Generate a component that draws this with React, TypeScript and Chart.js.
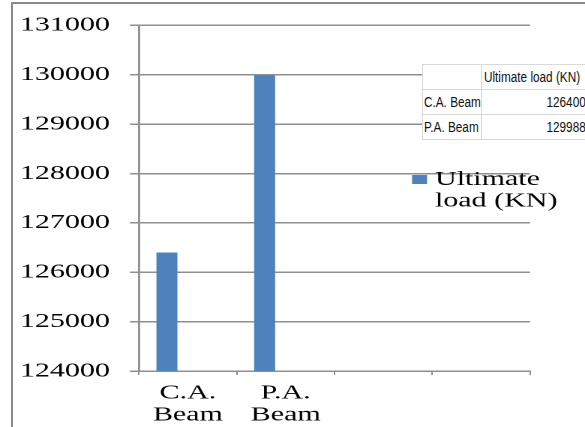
import React, { useEffect, useRef } from "react";
import { Chart, registerables } from "chart.js";

Chart.register(...registerables);

const categories: (string | string[])[] = [["C.A.", "Beam"], ["P.A.", "Beam"], "", ""];
const ultimateLoad: (number | null)[] = [126400, 129988, null, null];
const emptySeries: (number | null)[] = [null, null, null, null];
const seriesName = "Ultimate load (KN)";
const legendLines = ["Ultimate", "load (KN)"];
const yMin = 124000;
const yMax = 131000;
const yStep = 1000;
const tableRowNames = ["C.A. Beam", "P.A. Beam"];
const tableRowValues = [126400, 129988];

const STRETCH = 1.5;
const BASE_W = 390;
const H = 427;
const CANVAS_H = 435;
const GRAY = "#8e8e8e";
const BLUE = "#4f81bd";
const SERIF = '"Liberation Serif", "Times New Roman", serif';

export default function App() {
  const ref = useRef<HTMLCanvasElement | null>(null);

  useEffect(() => {
    document.body.style.margin = "0";
    document.body.style.overflow = "hidden";
    const canvas = ref.current;
    if (!canvas) return;

    const legendPlugin = {
      id: "customLegend",
      afterDatasetsDraw(chart: any) {
        const ctx = chart.ctx;
        ctx.save();
        ctx.fillStyle = BLUE;
        ctx.fillRect(274.7, 175, 10, 9);
        ctx.fillStyle = "#000";
        ctx.font = `20px ${SERIF}`;
        ctx.textBaseline = "alphabetic";
        ctx.textAlign = "left";
        legendLines.forEach((line, i) => {
          ctx.fillText(line, 290, 185 + i * 21.5);
        });
        ctx.restore();
      },
    };

    const chart = new Chart(canvas, {
      type: "bar",
      data: {
        labels: categories,
        datasets: [
          { label: seriesName, data: ultimateLoad, backgroundColor: BLUE, borderWidth: 0 },
          { label: "", data: emptySeries, backgroundColor: BLUE },
          { label: "", data: emptySeries, backgroundColor: BLUE },
        ],
      },
      options: {
        animation: false,
        responsive: false,
        devicePixelRatio: 2,
        datasets: {
          bar: { categoryPercentage: 0.6445, barPercentage: 1 },
        },
        layout: { padding: { top: 25, right: 36.7, bottom: 2, left: 0 } },
        plugins: {
          legend: { display: false },
          tooltip: { enabled: false },
        },
        scales: {
          x: {
            type: "category",
            offset: true,
            grid: {
              display: true,
              offset: true,
              drawOnChartArea: false,
              drawTicks: true,
              tickLength: 4,
              color: GRAY,
              lineWidth: 1,
            },
            border: { display: true, color: GRAY, width: 1.5 },
            ticks: {
              color: "#000",
              font: { family: SERIF, size: 20, lineHeight: 1.1 },
              maxRotation: 0,
              minRotation: 0,
              autoSkip: false,
              padding: 7,
            },
          },
          y: {
            min: yMin,
            max: yMax,
            afterFit(scale: any) {
              scale.width = 92.7;
            },
            grid: {
              color: GRAY,
              lineWidth: 1.5,
              tickLength: 6,
              drawTicks: true,
            },
            border: { display: true, color: GRAY, width: 1.4 },
            ticks: {
              stepSize: yStep,
              color: "#000",
              font: { family: SERIF, size: 20 },
              padding: 13.4,
              callback: (v: any) => String(v),
            },
          },
        },
      },
      plugins: [legendPlugin],
    });
    return () => chart.destroy();
  }, []);

  const cellBase: React.CSSProperties = {
    border: "1px solid #d9d9d9",
    height: 24,
    padding: 0,
    whiteSpace: "nowrap",
    overflow: "hidden",
  };
  const txt = (s: string | number, origin: string): React.ReactNode => (
    <span style={{ display: "inline-block", transform: "scaleX(0.84)", transformOrigin: origin }}>{s}</span>
  );

  return (
    <div style={{ position: "fixed", left: 0, top: 0, width: 585, height: H, overflow: "hidden", background: "#fff" }}>
      <div
        style={{
          position: "absolute",
          left: 11,
          top: 2,
          width: 700,
          height: 600,
          borderLeft: "2px solid #8a8a8a",
          borderTop: "2px solid #8a8a8a",
        }}
      />
      <canvas
        ref={ref}
        width={BASE_W}
        height={CANVAS_H}
        style={{ position: "absolute", left: 0, top: 0, transform: `scaleX(${STRETCH})`, transformOrigin: "0 0" }}
      />
      <table
        style={{
          position: "absolute",
          left: 422,
          top: 64,
          borderCollapse: "collapse",
          background: "#fff",
          fontFamily: '"Liberation Sans", Arial, sans-serif',
          fontSize: 14,
          color: "#111",
          tableLayout: "fixed",
          width: 166,
        }}
      >
        <colgroup>
          <col style={{ width: 59 }} />
          <col style={{ width: 107 }} />
        </colgroup>
        <tbody>
          <tr>
            <td style={cellBase}></td>
            <td style={{ ...cellBase, textAlign: "left", paddingLeft: 2 }}>{txt(seriesName, "0 50%")}</td>
          </tr>
          {tableRowNames.map((name, i) => (
            <tr key={name}>
              <td style={{ ...cellBase, paddingLeft: 1 }}>{txt(name, "0 50%")}</td>
              <td style={{ ...cellBase, textAlign: "right", paddingRight: 2 }}>{txt(tableRowValues[i], "100% 50%")}</td>
            </tr>
          ))}
        </tbody>
      </table>
    </div>
  );
}
